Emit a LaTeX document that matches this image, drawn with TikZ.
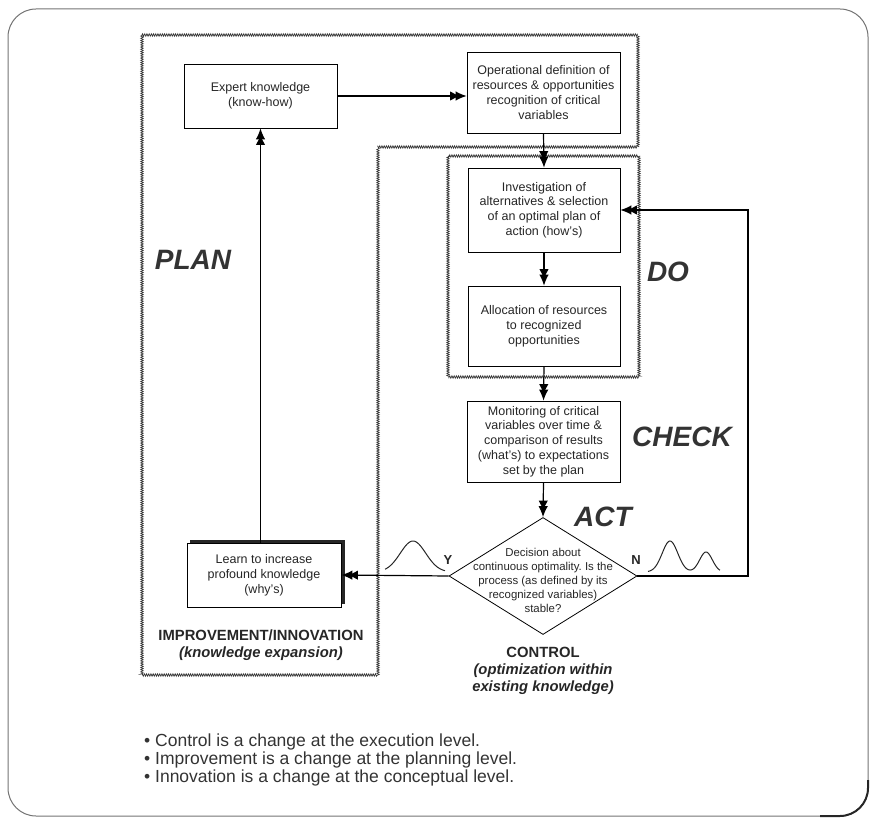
\documentclass[tikz,border=0pt]{standalone}
\usepackage{fontspec}
\setmainfont{Liberation Sans}
\usetikzlibrary{arrows.meta,shapes.geometric,decorations.pathmorphing}
\frenchspacing
\begin{document}
\begin{tikzpicture}[x=1pt,y=-1pt,
  box/.style={draw, line width=0.8pt, align=center, inner sep=0pt,
    font=\fontsize{12.5}{14.8}\selectfont, text=black!85},
  wavy/.style={decorate, decoration={zigzag, segment length=2.2pt, amplitude=1.2pt}, line width=0.7pt, black!80},
  conn/.style={line width=1.2pt, arrows={-{Latex[length=10pt, width=9.5pt, sep=-4.5pt]Latex[length=11pt, width=9.5pt]}}},
  big/.style={font=\fontsize{28}{30}\selectfont\bfseries\itshape, text=black!80},
  lab/.style={font=\fontsize{14.8}{17}\selectfont, align=center, text=black!85},
  bul/.style={anchor=west, font=\fontsize{17.5}{18}\selectfont, text=black!80, inner sep=0pt},
  bell/.style={line width=1pt, black!85}
]
\useasboundingbox (0,0) rectangle (872,818);
% outer frame
\draw[rounded corners=28pt, line width=1pt, black!55] (8,9) rectangle (868,816);
\draw[line width=2pt, black!85] (868,780) -- (868,788) arc[start angle=0, end angle=90, radius=28] -- (820,816);

% dotted regions
\draw[wavy] (142,35) -- (638,35) -- (638,147) -- (378,147) -- (378,675) -- (142,675) -- cycle;
\draw[wavy] (448,156) rectangle (639,377);

% boxes
\node[box, minimum width=153pt, minimum height=64pt] (expert) at (260.5,96) {Expert knowledge\\(know-how)};
\node[box, minimum width=153pt, minimum height=81pt] (oper) at (543.5,92.5) {Operational definition of\\resources \& opportunities\\recognition of critical\\variables};
\node[box, minimum width=152pt, minimum height=84pt] (inv) at (544,210) {Investigation of\\alternatives \& selection\\of an optimal plan of\\action (how's)};
\node[box, minimum width=152pt, minimum height=80pt] (alloc) at (544,326) {Allocation of resources\\to recognized\\opportunities};
\node[box, minimum width=153pt, minimum height=81pt] (mon) at (543.5,441.5) {Monitoring of critical\\variables over time \&\\comparison of results\\(what's) to expectations\\set by the plan};

% learn box with offset shadow
\fill[black!85] (190,539.5) rectangle (344.5,604);
\node[box, fill=white, minimum width=154pt, minimum height=64pt] (learn) at (264,575) {Learn to increase\\profound knowledge\\(why's)};

% decision diamond
\node[diamond, draw, line width=0.8pt, minimum width=188pt, minimum height=117pt, inner sep=0pt] (dia) at (543,576) {};
\node[align=center, font=\fontsize{11.4}{14}\selectfont, text=black!85, inner sep=0pt] (diatext) at (543,580.5) {Decision about\\continuous optimality. Is the\\process (as defined by its\\recognized variables)\\stable?};

% connectors
\draw[conn] (expert.east) -- (oper.west |- expert.east);
\draw[conn] (oper.south) -- (inv.north);
\draw[conn] (inv.south) -- (alloc.north);
\draw[conn] (alloc.south) -- (mon.north);
\draw[conn] (mon.south) -- (dia.north);
\draw[conn] (dia.west) -- (learn.east);
\coordinate (loop) at (748,576);
\draw[conn] (dia.east) -- (loop) |- (inv.east);
\draw[conn] (learn.north -| expert.south) -- (expert.south);

% distributions
\draw[bell] plot[domain=385:445, samples=60, smooth] (\x, {572-31*exp(-min(((\x-413)/18)^2,9))});
\draw[bell] plot[domain=648:720, samples=80, smooth] (\x, {572-31*exp(-min(((\x-670)/11)^2,9))-20*exp(-min(((\x-706)/9)^2,9))});
\node[font=\fontsize{13}{15}\selectfont\bfseries, text=black!85] (ylab) at (448,560) {Y};
\node[font=\fontsize{13}{15}\selectfont\bfseries, text=black!85] (nlab) at (636,560) {N};

% stage labels
\node[big] (plan) at (193,260) {PLAN};
\node[big] (do) at (668,272) {DO};
\node[big] (check) at (682,437) {CHECK};
\node[big] (act) at (603,517) {ACT};

\node[lab] (impr) at (261,645.5) {\textbf{IMPROVEMENT/INNOVATION}\\\textbf{\itshape (knowledge expansion)}};
\node[lab] (ctrl) at (543,671) {\textbf{CONTROL}\\\textbf{\itshape (optimization within}\\\textbf{\itshape existing knowledge)}};

% bullets
\node[bul] (b1) at (144,742) {• Control is a change at the execution level.};
\node[bul] (b2) at (144,760) {• Improvement is a change at the planning level.};
\node[bul] (b3) at (144,778) {• Innovation is a change at the conceptual level.};
\end{tikzpicture}
\end{document}
